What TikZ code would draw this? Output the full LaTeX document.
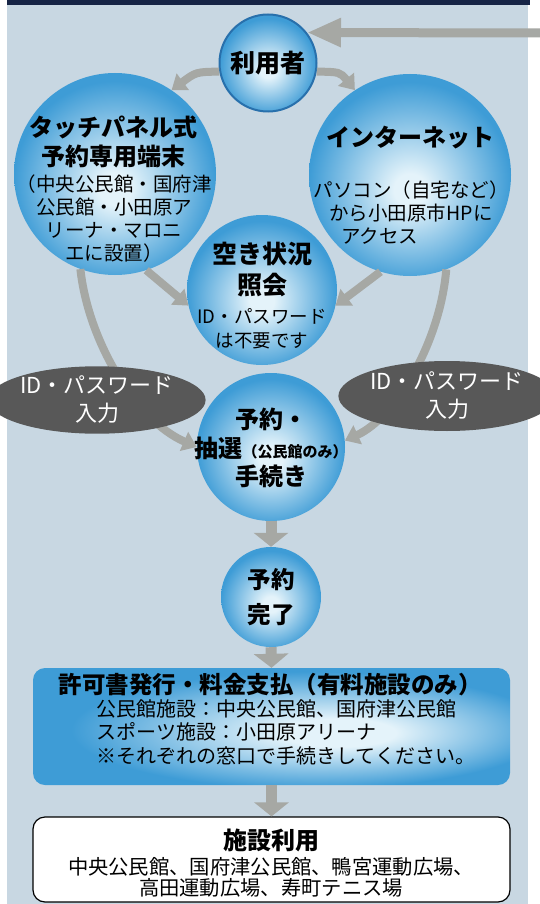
\documentclass[tikz,border=0pt]{standalone}
\usepackage{fontspec}
\IfFontExistsTF{Noto Sans CJK JP Black}
    {\setmainfont{Noto Sans CJK JP}[BoldFont={Noto Sans CJK JP Black}]}
    {\setmainfont{Noto Sans CJK JP}}
\usepackage{xcolor}
\usepackage{tikz}
\usetikzlibrary{
    positioning,
    arrows.meta,
    shapes.geometric
}

\definecolor{panelbg}{RGB}{200,215,226}
\definecolor{navybar}{RGB}{22,36,70}
\definecolor{arrowgray}{RGB}{166,168,164}
\definecolor{bubblein}{RGB}{228,243,250}
\definecolor{bubbleout}{RGB}{62,156,214}
\definecolor{bubbleedge}{RGB}{40,112,172}
\definecolor{idgray}{RGB}{88,88,88}

\pgfdeclareradialshading{bubble}{\pgfpoint{0bp}{-4bp}}{%
  color(0bp)=(bubblein); color(4bp)=(bubblein); color(25bp)=(bubbleout); color(50bp)=(bubbleout)}
\pgfdeclareradialshading{permitshade}{\pgfpoint{8bp}{-3bp}}{%
  color(0bp)=(bubblein); color(6bp)=(bubblein); color(25bp)=(bubbleout); color(50bp)=(bubbleout)}

\begin{document}
\begin{tikzpicture}[x=1pt, y=-1pt,
    bubble/.style={circle, shading=bubble, inner sep=0pt},
    ttl/.style={font=\fontsize{24}{29}\selectfont\bfseries, align=center},
    dsc/.style={font=\fontsize{19.5}{23}\selectfont, align=center},
    garrow/.style={draw=arrowgray, line width=8pt, -{Triangle[width=20pt,length=14pt]}},
    downarrow/.style={draw=arrowgray, line width=11pt, -{Triangle[width=34pt,length=14pt]}},
    idbox/.style={ellipse, fill=idgray, text=white, minimum width=180pt, inner sep=0pt,
        font=\fontsize{22}{28}\selectfont, align=center}]
        \useasboundingbox (0,0) rectangle (540,904);
        % 背景
        \fill[white] (0,0) rectangle (540,904);
        \fill[panelbg] (7,0) rectangle (528,904);
        \fill[navybar] (7,0) rectangle (530,5);

        % 円
        \node[bubble, draw=bubbleedge, line width=2pt, minimum size=97pt] (user) at (268,63) {};
        \node[bubble, minimum size=202pt] (touch) at (115,174) {};
        \node[bubble, minimum size=202pt] (inet) at (410,175) {};
        \node[bubble, minimum size=150pt] (vacant) at (262,290) {};
        \node[bubble, minimum size=148pt] (resv) at (271,447) {};
        \node[bubble, minimum size=100pt] (done) at (271,597) {};

        \node[ttl, font=\fontsize{25}{29}\selectfont\bfseries] (user-t) at (user) {利用者};
        \node[ttl] (touch-t) at (113,142) {タッチパネル式\\予約専用端末};
        \node[dsc] (touch-d) at (114,219) {（中央公民館・国府津\\公民館・小田原ア\\リーナ・マロニ\\エに設置）};
        \node[ttl] (inet-t) at (410,138) {インターネット};
        \node[dsc] (inet-d) at (411,213) {パソコン（自宅など）\\から小田原市HPに\\\makebox[140pt][l]{アクセス}};
        \node[ttl, font=\fontsize{25}{31}\selectfont\bfseries] (vacant-t) at (262,270) {空き状況\\照会};
        \node[dsc, font=\fontsize{18.5}{24}\selectfont] (vacant-d) at (262,329) {ID・パスワード\\は不要です};
        \node[ttl, font=\fontsize{24}{28.5}\selectfont\bfseries] (resv-t) at (271,448)
            {予約・\\抽選{\fontsize{15}{15}\selectfont（公民館のみ）}\\手続き};
        \node[ttl, font=\fontsize{23.5}{35}\selectfont\bfseries] (done-t) at (done) {予約\\完了};

        % 矢印
        \coordinate (entry) at (540,33);
        \draw[garrow, line width=9pt, -{Triangle[width=27pt,length=34pt]}] (entry) -- (user.38);
        \draw[garrow] (user.190) .. controls (196,72) .. (touch.56);
        \draw[garrow] (user.-10) .. controls (340,72) .. (inet.123);
        \draw[garrow] (touch.-72) -- (vacant.192);
        \draw[garrow] (inet.-107) -- (vacant.-12);
        \draw[garrow] (touch.-110) .. controls (88,340) and (135,420) .. (resv.180);
        \draw[garrow] (inet.-69) .. controls (440,343) and (395,418) .. (resv.5);

        % ID・パスワード入力
        \node[idbox, minimum height=64pt] (idl) at (97,400) {ID・パスワード\\入力};
        \node[idbox, minimum height=70pt] (idr) at (447,396) {ID・パスワード\\入力};

        % 許可書発行・施設利用
        \node[rounded corners=12pt, shading=permitshade, minimum width=477pt, minimum height=117pt] (permit) at (271.5,726.5) {};
        \node[ttl, font=\fontsize{23.5}{28}\selectfont\bfseries] (permit-t) at (270,685) {許可書発行・料金支払（有料施設のみ）};
        \node[font=\fontsize{20}{23.5}\selectfont, align=left, anchor=west] (permit-d) at (93,732)
            {公民館施設：中央公民館、国府津公民館\\スポーツ施設：小田原アリーナ\\※それぞれの窓口で手続きしてください。};
        \node[draw, fill=white, line width=1.2pt, rounded corners=12pt, minimum width=477pt, minimum height=85pt] (facility) at (271.5,859.5) {};
        \node[ttl] (facility-t) at (271,840) {施設利用};
        \node[font=\fontsize{20.3}{21.5}\selectfont, align=center] (facility-d) at (271,877.5)
            {中央公民館、国府津公民館、鴨宮運動広場、\\高田運動広場、寿町テニス場};

        \draw[downarrow] (resv.south) -- (done.north);
        \draw[downarrow] (done.south) -- (permit.north);
        \draw[downarrow] (permit.south) -- (facility.north);
\end{tikzpicture}
\end{document}
